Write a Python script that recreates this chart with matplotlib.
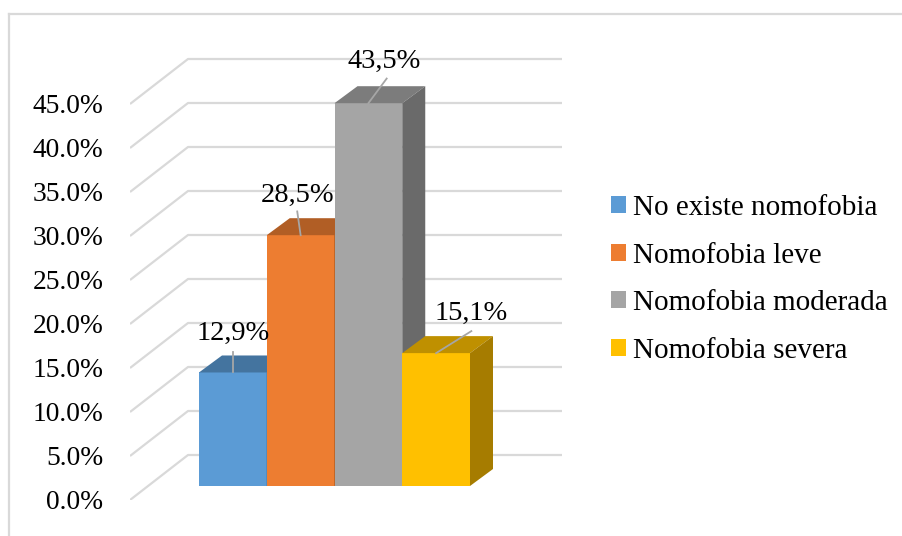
import numpy as np
import matplotlib
matplotlib.use('Agg')
import matplotlib.pyplot as plt
from matplotlib.patches import Patch, Polygon
from matplotlib.lines import Line2D

categories = ['No existe nomofobia', 'Nomofobia leve', 'Nomofobia moderada', 'Nomofobia severa']
values = [12.9, 28.5, 43.5, 15.1]
value_labels = ['12,9%', '28,5%', '43,5%', '15,1%']
yticks = [0, 5, 10, 15, 20, 25, 30, 35, 40, 45]
ytick_labels = ['0.0%', '5.0%', '10.0%', '15.0%', '20.0%', '25.0%', '30.0%', '35.0%', '40.0%', '45.0%']

front_colors = ['#5B9BD5', '#ED7D31', '#A5A5A5', '#FFC000']
top_colors = ['#44749F', '#B15E25', '#7C7C7C', '#BF9000']
side_colors = ['#376089', '#96501F', '#6A6A6A', '#A67C00']

plt.rcParams['font.family'] = ['Liberation Serif', 'DejaVu Sans']

W, H = 903, 536
fig = plt.figure(figsize=(W / 100, H / 100), dpi=100)

# pixel scale of the fake 3d chart
bar_px = 67.75
pct_px = 8.8
x0_px, y0_px = 199, 486

# axes covers the gridline box, limits follow from the pixel scale
left, right, bottom, top = 130, 562, 500, 20
ax = fig.add_axes([left / W, 1 - bottom / H, (right - left) / W, (bottom - top) / H])
ax.set_xlim((left - x0_px) / bar_px, (right - x0_px) / bar_px)
ax.set_ylim((y0_px - bottom) / pct_px, (y0_px - top) / pct_px)
for s in ax.spines.values():
    s.set_visible(False)

# depth of the boxes and of the floor
box_dx, box_dy = 23 / bar_px, 17 / pct_px
xmin = ax.get_xlim()[0]
xmax = ax.get_xlim()[1]
ymin = ax.get_ylim()[0]
back_x = xmin + 58 / bar_px
back_dy = 45 / pct_px

# gridlines: slanted part on the side wall, then flat part on the back wall
for v in yticks:
    ax.plot([xmin, back_x, xmax], [v + ymin, v + ymin + back_dy, v + ymin + back_dy],
            color='#D9D9D9', lw=1.6, zorder=1, solid_capstyle='butt')

# left to right so each box hides the side of the one before
xs = np.arange(len(values))
for x, v, fc, tc, sc in zip(xs, values, front_colors, top_colors, side_colors):
    z = 3 + x
    ax.bar(x, v, width=1, align='edge', color=fc, zorder=z)
    ax.add_patch(Polygon([(x, v), (x + box_dx, v + box_dy), (x + 1 + box_dx, v + box_dy), (x + 1, v)],
                         closed=True, fc=tc, ec='none', zorder=z))
    ax.add_patch(Polygon([(x + 1, 0), (x + 1 + box_dx, box_dy), (x + 1 + box_dx, v + box_dy), (x + 1, v)],
                         closed=True, fc=sc, ec='none', zorder=z))

# data labels with leader lines
leader_dx = [0.0, -0.05, 0.27, 0.52]
leader_dy = [2.3, 2.7, 2.8, 2.5]
text_dx = [0.0, -0.05, 0.24, 0.52]
text_dy = [3.0, 3.05, 3.35, 3.05]
for x, v, lab, ldx, ldy, tdx, tdy in zip(xs, values, value_labels, leader_dx, leader_dy, text_dx, text_dy):
    ax.plot([x + 0.5, x + 0.5 + ldx], [v, v + ldy], color='#A6A6A6', lw=1.3, zorder=10)
    ax.text(x + 0.5 + tdx, v + tdy, lab, ha='center', va='bottom', fontsize=20.5, color='black', zorder=11)

ax.set_xticks([])
ax.set_yticks([v + ymin + 0.05 for v in yticks])
ax.set_yticklabels(ytick_labels, fontsize=19.8, color='black')
ax.tick_params(axis='y', length=0, pad=19)

handles = [Patch(fc=c, ec='none') for c in front_colors]
fig.legend(handles, categories, loc='center left', bbox_to_anchor=(611 / W, 1 - 279.5 / H), frameon=False,
           fontsize=21, handlelength=0.52, handleheight=0.52, handletextpad=0.25, labelspacing=0.74,
           borderpad=0, borderaxespad=0)

# light frame of the pasted picture
frame = '#D9D9D9'
fig.add_artist(Line2D([9 / W, 9 / W], [0, 1 - 14 / H], color=frame, lw=1.6))
fig.add_artist(Line2D([9 / W, 1], [1 - 14 / H, 1 - 14 / H], color=frame, lw=1.6))

fig.savefig('out.png', dpi=100)
